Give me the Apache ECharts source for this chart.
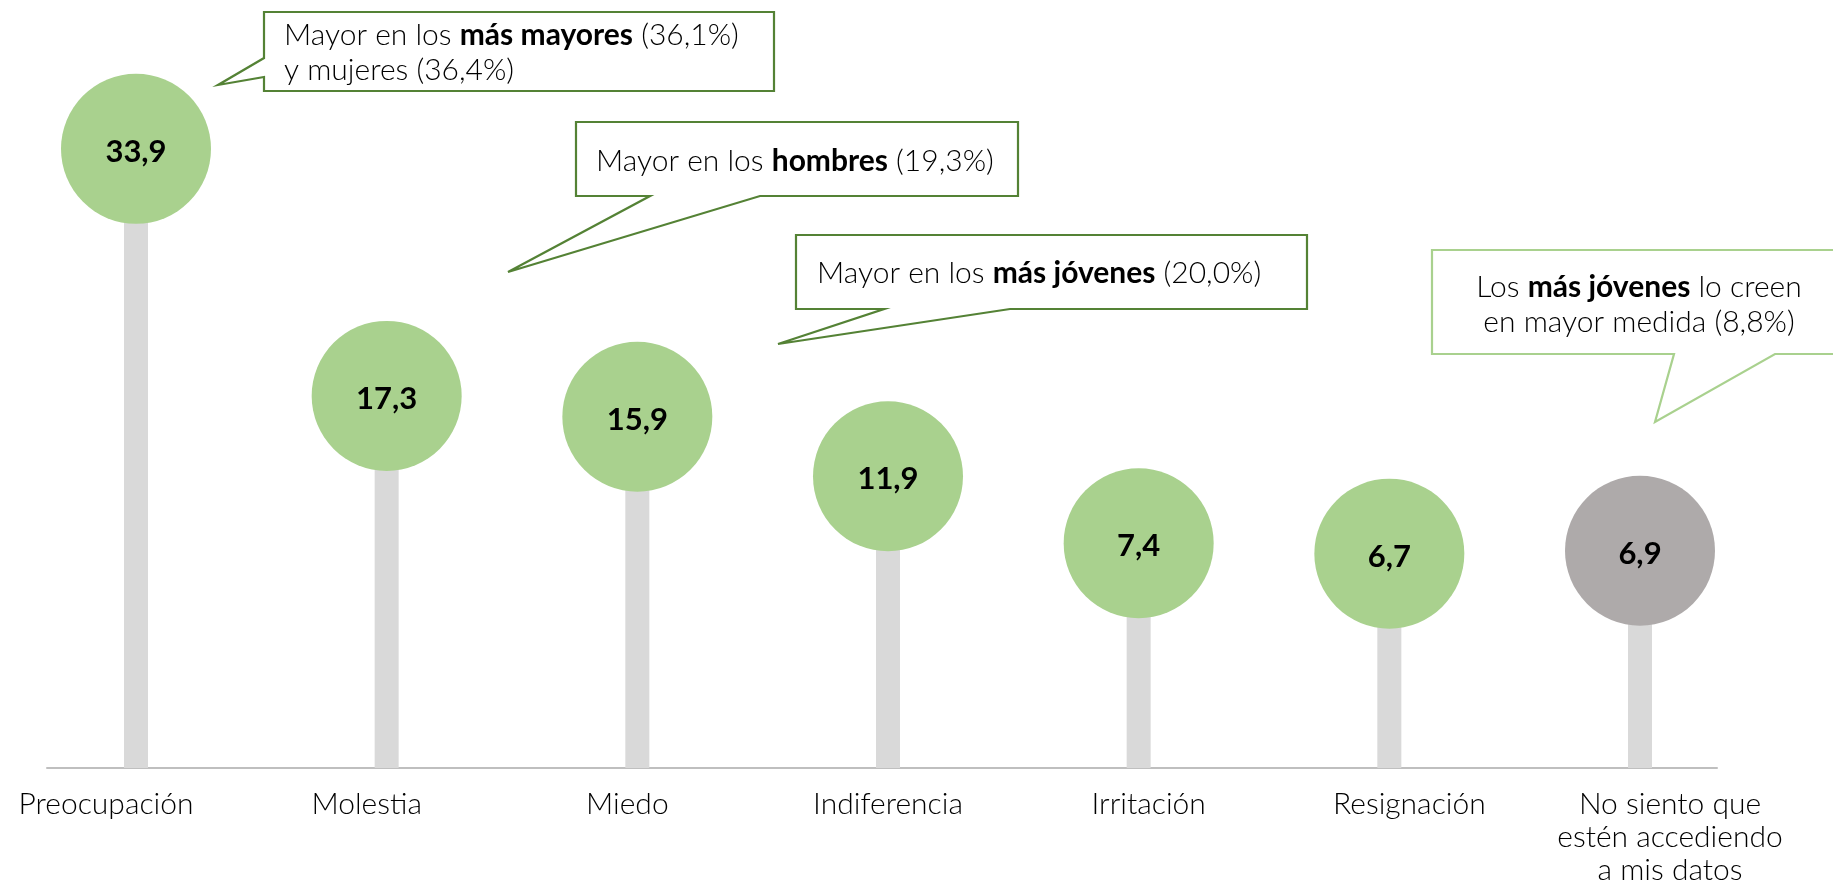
<!DOCTYPE html>
<html>
<head>
<meta charset="utf-8">
<script src="https://cdn.jsdelivr.net/npm/echarts@6/dist/echarts.min.js"></script>
<style>
html,body{margin:0;padding:0;background:#fff}
#chart{width:1833px;height:887px}
</style>
</head>
<body>
<div id="chart"></div>
<script>
const categories=["Preocupación","Molestia","Miedo","Indiferencia","Irritación","Resignación","No siento que\nestén accediendo\na mis datos"];
const values=[33.9,17.3,15.9,11.9,7.4,6.7,6.9];

const GREEN="#a9d18e",GREY="#aeaaaa",STEM="#d9d9d9",DARK="#548235";
const FONT="Lato";
const yMin=-7.7,yMax=43.9;

const chart=echarts.init(document.querySelector("#chart"));

const fmt=v=>v.toFixed(1).replace(".",",");

// speech bubble: box plus tail, one polygon
function bubble(pts,color,texts){
  return [{
    type:"polygon",z:100,
    shape:{points:pts},
    style:{fill:"#fff",stroke:color,lineWidth:2.2}
  }].concat(texts.map(t=>({
    type:"text",z:101,x:t.x,y:t.y,
    style:{
      text:t.text,textAlign:t.align||"left",textVerticalAlign:"middle",
      font:`300 30px ${FONT}`,fill:"#000",
      rich:{
        r:{fontSize:30,fontFamily:FONT,fontWeight:300,fill:"#000"},
        b:{fontSize:30,fontFamily:FONT,fontWeight:"bold",fill:"#000"}
      }
    }
  })));
}

const graphic=[].concat(
  bubble([[264,12],[774,12],[774,91],[264,91],[264,77],[218,85],[264,58]],DARK,[
    {x:284,y:35,text:"{r|Mayor en los }{b|más mayores}{r| (36,1%)}"},
    {x:284,y:70,text:"{r|y mujeres (36,4%)}"}
  ]),
  bubble([[576,122],[1018,122],[1018,196],[760,196],[508,272],[650,196],[576,196]],DARK,[
    {x:596,y:161,text:"{r|Mayor en los }{b|hombres}{r| (19,3%)}"}
  ]),
  bubble([[796,235],[1307,235],[1307,309],[1010,309],[778,344],[884,309],[796,309]],DARK,[
    {x:817,y:273,text:"{r|Mayor en los }{b|más jóvenes}{r| (20,0%)}"}
  ]),
  bubble([[1432,250],[1850,250],[1850,354],[1775,354],[1655,422],[1674,354],[1432,354]],GREEN,[
    {x:1639,y:287,align:"center",text:"{r|Los }{b|más jóvenes}{r| lo creen}"},
    {x:1639,y:322,align:"center",text:"{r|en mayor medida (8,8%)}"}
  ])
);

chart.setOption({
  animation:false,
  grid:[
    {left:136,right:193,top:0,bottom:119},
    {left:106,right:163,top:0,bottom:119},
    {left:47,right:116,top:0,bottom:119}
  ],
  xAxis:[
    {gridIndex:0,type:"category",data:categories,boundaryGap:false,
      axisLine:{show:false},axisTick:{show:false},axisLabel:{show:false}},
    {gridIndex:1,type:"category",data:categories,boundaryGap:false,
      axisLine:{show:false},axisTick:{show:false},
      axisLabel:{interval:0,margin:20,fontFamily:FONT,fontWeight:300,fontSize:30,lineHeight:33,color:"#000",align:"center"}},
    {gridIndex:2,type:"category",data:categories,
      axisLine:{show:true,onZero:false,lineStyle:{color:"#bfbfbf",width:2}},
      axisTick:{show:false},axisLabel:{show:false}}
  ],
  yAxis:[
    {gridIndex:0,type:"value",min:yMin,max:yMax,show:false},
    {gridIndex:1,type:"value",show:false},
    {gridIndex:2,type:"value",show:false}
  ],
  series:[
    {
      type:"custom",
      xAxisIndex:0,yAxisIndex:0,z:1,
      data:values.map((v,i)=>[i,v]),
      renderItem:(params,api)=>{
        const top=api.coord([api.value(0),api.value(1)]);
        const base=api.coord([api.value(0),yMin]);
        const w=24;
        return {type:"rect",shape:{x:top[0]-w/2,y:top[1],width:w,height:base[1]-top[1]},style:{fill:STEM}};
      }
    },
    {
      type:"scatter",
      xAxisIndex:0,yAxisIndex:0,z:3,
      symbolSize:150,
      data:values.map((v,i)=>({
        value:[i,v],
        itemStyle:{color:i===values.length-1?GREY:GREEN,opacity:1}
      })),
      label:{
        show:true,position:"inside",
        formatter:p=>fmt(p.value[1]),
        fontFamily:FONT,fontWeight:"bold",fontSize:31,color:"#000",offset:[0,3]
      },
      emphasis:{disabled:true}
    }
  ],
  graphic
});
</script>
</body>
</html>
